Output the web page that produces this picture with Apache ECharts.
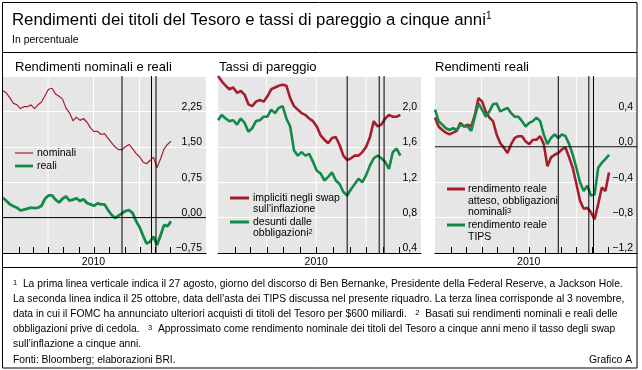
<!DOCTYPE html>
<html>
<head>
<meta charset="utf-8">
<script src="https://cdn.jsdelivr.net/npm/echarts@6/dist/echarts.min.js"></script>
<style>html,body{margin:0;padding:0;background:#fff;}#c{width:642px;height:370px;}</style>
</head>
<body>
<div id="c"></div>
<script>
const dates = ['2010-01-01','2010-01-08','2010-01-15','2010-01-22','2010-01-29','2010-02-05','2010-02-12','2010-02-19','2010-02-26',
'2010-03-05','2010-03-12','2010-03-19','2010-03-26','2010-04-02','2010-04-09','2010-04-16','2010-04-23','2010-04-30',
'2010-05-07','2010-05-14','2010-05-21','2010-05-28','2010-06-04','2010-06-11','2010-06-18','2010-06-25',
'2010-07-02','2010-07-09','2010-07-16','2010-07-23','2010-07-30','2010-08-06','2010-08-13','2010-08-20','2010-08-27',
'2010-09-03','2010-09-10','2010-09-17','2010-09-24','2010-10-01','2010-10-08','2010-10-15','2010-10-22','2010-10-29',
'2010-11-05','2010-11-12','2010-11-19','2010-11-26','2010-12-03'];

const nominali = [2.69,2.64,2.53,2.42,2.39,2.31,2.35,2.35,2.39,2.31,2.39,2.45,2.58,2.72,2.74,2.62,2.57,2.51,2.32,2.22,
2.05,2.13,2.06,2.10,2.02,1.90,1.82,1.83,1.76,1.78,1.68,1.59,1.50,1.44,1.44,1.50,1.55,1.46,1.36,1.29,
1.18,1.14,1.21,1.28,1.06,1.24,1.45,1.55,1.62];
const reali = [0.42,0.35,0.28,0.24,0.21,0.15,0.17,0.19,0.21,0.20,0.21,0.25,0.40,0.47,0.47,0.38,0.32,0.40,0.45,0.36,
0.38,0.41,0.35,0.39,0.31,0.28,0.25,0.30,0.28,0.28,0.16,0.06,-0.01,0.04,0.09,0.14,0.16,0.10,-0.07,-0.20,
-0.38,-0.55,-0.51,-0.40,-0.58,-0.38,-0.16,-0.18,-0.08];
const swapBE = [2.40,2.34,2.29,2.25,2.27,2.21,2.23,2.19,2.08,2.06,2.11,2.13,2.11,2.17,2.25,2.27,2.29,2.30,2.29,2.15,
2.06,2.02,1.98,1.96,1.92,1.89,1.83,1.73,1.68,1.64,1.70,1.71,1.62,1.50,1.45,1.47,1.50,1.50,1.54,1.60,
1.71,1.89,1.83,1.85,1.92,1.96,1.94,1.94,1.96];
const bondBE = [1.90,1.96,1.92,1.89,1.90,1.85,1.92,1.87,1.77,1.81,1.89,1.90,1.94,1.94,2.02,1.98,2.04,2.06,1.92,1.83,
1.56,1.50,1.54,1.50,1.52,1.43,1.33,1.30,1.22,1.26,1.31,1.22,1.18,1.09,1.05,1.12,1.18,1.24,1.20,1.28,
1.39,1.47,1.50,1.47,1.43,1.35,1.54,1.58,1.50];
const realeAtteso = [0.33,0.23,0.19,0.16,0.14,0.16,0.18,0.27,0.23,0.25,0.23,0.36,0.55,0.51,0.40,0.33,0.29,0.14,0.04,-0.01,
-0.07,0.03,0.10,0.12,0.12,0.06,0.03,0.08,0.08,0.12,0.03,-0.22,-0.12,-0.09,-0.07,-0.03,-0.01,-0.12,-0.24,-0.42,
-0.61,-0.70,-0.69,-0.74,-0.82,-0.65,-0.46,-0.50,-0.29];
const realeTips = [0.42,0.29,0.25,0.21,0.19,0.21,0.19,0.25,0.23,0.23,0.18,0.34,0.49,0.42,0.34,0.40,0.48,0.49,0.40,0.42,
0.44,0.38,0.34,0.34,0.29,0.23,0.27,0.29,0.33,0.29,0.14,0.03,0.10,0.14,0.10,0.14,0.12,0.03,-0.09,-0.24,
-0.40,-0.50,-0.44,-0.55,-0.54,-0.24,-0.18,-0.14,-0.09];

const eventDates = ['2010-08-27','2010-10-25','2010-11-03'];
const quarterDates = ['2010-04-01','2010-07-01','2010-10-01'];
const monthTicks = ['2010-02-01','2010-03-01','2010-04-01','2010-05-01','2010-06-01','2010-07-01','2010-08-01','2010-09-01','2010-10-01','2010-11-01','2010-12-01'];
const yearLabel = '2010';
const yearLabelDate = '2010-07-01';

// ---- styling ----
const FONT = '"Liberation Sans", Arial, Helvetica, sans-serif';
const RED = '#a81d2c';
const GREEN = '#13894a';
const BG = '#e6e6e6';
const PLOT_TOP = 76, PLOT_H = 177, TICK_PX = 6;

function ts(s) { const p = s.split('-').map(Number); return Date.UTC(p[0], p[1] - 1, p[2]); }
function pairs(vals) { return vals.map((v, i) => [ts(dates[i]), v]); }

const panels = [
  { left: 3, width: 203, xMax: '2011-02-11', yMin: -0.75, yMax: 3.0, yInt: 0.75, dec: 2, zero: true,
    series: [{ name: 'nominali', data: nominali, color: RED, w: 1.2 }, { name: 'reali', data: reali, color: GREEN, w: 2.8 }] },
  { left: 218, width: 203, xMax: '2011-01-10', yMin: 0.4, yMax: 2.4, yInt: 0.4, dec: 1, zero: false,
    series: [{ name: 'swap', data: swapBE, color: RED, w: 2.6 }, { name: 'obbligazioni', data: bondBE, color: GREEN, w: 2.6 }] },
  { left: 435, width: 202, xMax: '2011-01-26', yMin: -1.2, yMax: 0.8, yInt: 0.4, dec: 1, zero: true,
    series: [{ name: 'atteso', data: realeAtteso, color: RED, w: 2.6 }, { name: 'tips', data: realeTips, color: GREEN, w: 2.6 }] }
];

const grid = [], xAxis = [], yAxis = [], series = [];
function segSeries(k, pts, color, z, w) {
  return { type: 'line', xAxisIndex: k, yAxisIndex: k, data: pts, showSymbol: false, symbol: 'none',
    lineStyle: { color: color, width: w || 1 }, z: z, animation: false, silent: true, clip: false };
}
panels.forEach((p, k) => {
  grid.push({ left: p.left, top: PLOT_TOP, width: p.width, height: PLOT_H, show: true, backgroundColor: BG, borderWidth: 0 });
  xAxis.push({
    type: 'value', gridIndex: k, min: ts('2010-01-01'), max: ts(p.xMax), position: 'bottom',
    axisLine: { show: true, onZero: false, lineStyle: { color: '#000', width: 1 } },
    axisTick: { show: false },
    axisLabel: { show: true, customValues: [ts(yearLabelDate)], formatter: () => yearLabel, color: '#000', fontSize: 10.5, fontFamily: FONT, margin: 4 },
    splitLine: { show: false }
  });
  yAxis.push({
    type: 'value', gridIndex: k, position: 'right', min: p.yMin, max: p.yMax, interval: p.yInt,
    axisLine: { show: false }, axisTick: { show: false },
    splitLine: { show: true, lineStyle: { color: '#fff', width: 1 } },
    axisLabel: {
      inside: true, margin: 4, verticalAlign: 'bottom', lineHeight: 9, showMaxLabel: false, color: '#000', fontSize: 10.5, fontFamily: FONT,
      formatter: v => (v < -1e-9 ? '\u2212' : '') + Math.abs(v).toFixed(p.dec).replace('.', ',')
    }
  });
  // white quarterly vertical grid lines, under the data
  quarterDates.forEach(d => series.push(segSeries(k, [[ts(d), p.yMin], [ts(d), p.yMax]], '#ffffff', 1, 1)));
  p.series.forEach(s => {
    series.push({
      type: 'line', name: s.name, xAxisIndex: k, yAxisIndex: k, data: pairs(s.data),
      showSymbol: false, symbol: 'none', lineStyle: { color: s.color, width: s.w }, itemStyle: { color: s.color },
      z: 3, animation: false, silent: true
    });
  });
  eventDates.forEach(d => series.push(segSeries(k, [[ts(d), p.yMin], [ts(d), p.yMax]], '#000', 5)));
  if (p.zero) series.push(segSeries(k, [[ts('2010-01-01'), 0], [ts(p.xMax), 0]], '#000', 5));
});

// ---- texts, legends, frame ----
function T(x, y, text, size, extra) {
  return { type: 'text', x: x, y: y, silent: true, z: 10,
    style: Object.assign({ text: text, fontSize: size, fontFamily: FONT, fill: '#000', verticalAlign: 'middle', align: 'left' }, extra || {}) };
}
function L(x1, x2, y, color, w) {
  return { type: 'line', silent: true, z: 10, shape: { x1: x1, y1: y, x2: x2, y2: y }, style: { stroke: color, lineWidth: w } };
}
const supRich = s => ({ sup: { fontSize: s, fontFamily: FONT, fill: '#000', verticalAlign: 'top' } });
const FN = 10.3;

const graphic = [
  { type: 'rect', silent: true, z: 10, shape: { x: 2.5, y: 2.5, width: 634.5, height: 365.5 }, style: { fill: 'none', stroke: '#000', lineWidth: 1 } },
  { type: 'line', silent: true, z: 10, shape: { x1: 2.5, y1: 52.5, x2: 637, y2: 52.5 }, style: { stroke: '#000', lineWidth: 1 } },
  { type: 'line', silent: true, z: 10, shape: { x1: 2.5, y1: 267.5, x2: 637, y2: 267.5 }, style: { stroke: '#000', lineWidth: 1 } },
  T(12, 20, 'Rendimenti dei titoli del Tesoro e tassi di pareggio a cinque anni{sup|1}', 16.8, { rich: supRich(10) }),
  T(12, 40, 'In percentuale', 10.5),
  T(15, 67, 'Rendimenti nominali e reali', 13),
  T(219, 67, 'Tassi di pareggio', 13),
  T(435, 67, 'Rendimenti reali', 13),
  L(15, 33, 153, RED, 1.2), T(37, 153, 'nominali', 10.5),
  L(15, 33, 166, GREEN, 2.8), T(37, 166, 'reali', 10.5),
  L(230, 249, 198, RED, 3), T(253, 198, 'impliciti negli swap', 10.5), T(253, 209.5, 'sull\u2019inflazione', 10.5),
  L(230, 249, 222, GREEN, 3), T(253, 222, 'desunti dalle', 10.5), T(253, 233.5, 'obbligazioni{sup|2}', 10.5, { rich: supRich(7.5) }),
  L(447, 465, 189, RED, 3), T(468, 189, 'rendimento reale', 10.5), T(468, 200.7, 'atteso, obbligazioni', 10.5), T(468, 212.3, 'nominali{sup|3}', 10.5, { rich: supRich(7.5) }),
  L(447, 465, 225, GREEN, 3), T(468, 225, 'rendimento reale', 10.5), T(468, 236.7, 'TIPS', 10.5),
  T(13, 284, '{sup|1}  La prima linea verticale indica il 27 agosto, giorno del discorso di Ben Bernanke, Presidente della Federal Reserve, a Jackson Hole.', FN, { rich: supRich(7.5) }),
  T(13, 299, 'La seconda linea indica il 25 ottobre, data dell\u2019asta dei TIPS discussa nel presente riquadro. La terza linea corrisponde al 3 novembre,', FN),
  T(13, 314, 'data in cui il FOMC ha annunciato ulteriori acquisti di titoli del Tesoro per $600 miliardi.   {sup|2}  Basati sui rendimenti nominali e reali delle', FN, { rich: supRich(7.5) }),
  T(13, 329, 'obbligazioni prive di cedola.   {sup|3}  Approssimato come rendimento nominale dei titoli del Tesoro a cinque anni meno il tasso degli swap', FN, { rich: supRich(7.5) }),
  T(13, 344, 'sull\u2019inflazione a cinque anni.', FN),
  T(13, 360, 'Fonti: Bloomberg; elaborazioni BRI.', FN),
  T(632, 360, 'Grafico A', FN, { align: 'right' })
];

const chart = echarts.init(document.getElementById('c'), null, { renderer: 'canvas' });
chart.setOption({ animation: false, backgroundColor: '#fff', grid: grid, xAxis: xAxis, yAxis: yAxis, series: series, graphic: graphic });

// monthly inward ticks, placed through the chart's own scales
const extra = [];
panels.forEach((p, k) => {
  monthTicks.forEach(d => {
    const a = chart.convertToPixel({ gridIndex: k }, [ts(d), p.yMin]);
    const x = Math.round(a[0]) + 0.5;
    extra.push({ type: 'line', silent: true, z: 20, shape: { x1: x, y1: a[1], x2: x, y2: a[1] - TICK_PX }, style: { stroke: '#000', lineWidth: 1 } });
  });
});
chart.setOption({ graphic: graphic.concat(extra) });
</script>
</body>
</html>
